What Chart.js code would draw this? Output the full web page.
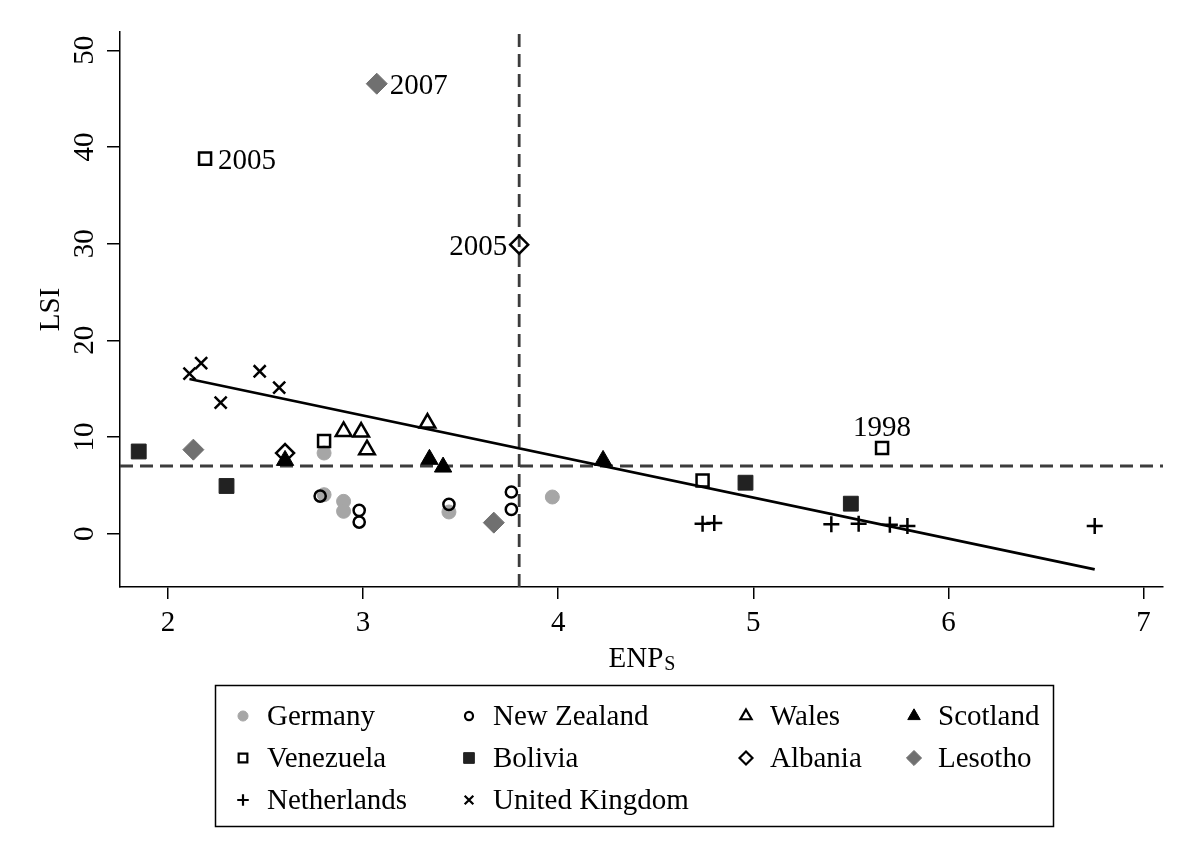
<!DOCTYPE html>
<html><head><meta charset="utf-8">
<script src="https://cdn.jsdelivr.net/npm/chart.js@4.4.1/dist/chart.umd.min.js"></script>
<style>html,body{margin:0;padding:0;background:#fff;}#wrap{width:1193px;height:864px;}</style>
</head><body><div id="wrap"><canvas id="c" width="1193" height="864"></canvas></div>
<script>
// ---- data ----
const xTicks=[2,3,4,5,6,7];
const yTicks=[0,10,20,30,40,50];
const germanyX=[2.80,2.80,2.90,2.90,3.44,3.97];
const germanyY=[8.34,4.03,3.34,2.31,2.24,3.79];
const nzX=[2.78,2.98,2.98,3.44,3.76,3.76];
const nzY=[3.89,2.41,1.20,3.03,4.31,2.51];
const walesX=[2.90,2.99,3.02,3.33];
const walesY=[10.58,10.51,8.69,11.44];
const scotlandX=[2.60,3.34,3.41,4.23];
const scotlandY=[7.58,7.69,6.89,7.58];
const venezuelaX=[2.19,2.80,4.74,5.66];
const venezuelaY=[38.8,9.58,5.51,8.86];
const boliviaX=[1.85,2.30,4.96,5.50];
const boliviaY=[8.50,4.93,5.27,3.10];
const albaniaX=[2.60,3.80];
const albaniaY=[8.34,29.9];
const lesothoX=[2.13,3.07,3.67];
const lesothoY=[8.69,46.55,1.14];
const netherlandsX=[4.74,4.80,5.40,5.54,5.70,5.79,6.75];
const netherlandsY=[1.03,1.10,0.96,1.03,0.93,0.79,0.79];
const ukX=[2.11,2.17,2.27,2.47,2.57];
const ukY=[16.55,17.65,13.55,16.80,15.10];
const fitX=[2.11,6.75];
const fitY=[16.0,-3.7];
const refX=3.8;
const refY=7;
const labelText=['2005','2007','2005','1998'];
const labelX=[2.19,3.07,3.80,5.66];
const labelY=[38.8,46.55,29.9,8.86];
const labelPos=['right','right','left','above'];
const xMin=1.754,xMax=7.1,yMin=-5.52,yMax=51.9;

const pts=(xs,ys)=>xs.map((v,i)=>({x:v,y:ys[i]}));
const FONT='"Liberation Serif", "Times New Roman", serif';
const CLEAR='rgba(0,0,0,0)';

const series=[
 {label:'Germany',x:germanyX,y:germanyY,style:'circle',r:7,fill:'#a6a6a6',stroke:'#a6a6a6',lw:1},
 {label:'New Zealand',x:nzX,y:nzY,style:'circle',r:5.6,fill:CLEAR,stroke:'#000',lw:2.5},
 {label:'Wales',x:walesX,y:walesY,style:'triangle',r:9,fill:CLEAR,stroke:'#000',lw:2.5},
 {label:'Scotland',x:scotlandX,y:scotlandY,style:'triangle',r:10,fill:'#000',stroke:'#000',lw:1},
 {label:'Venezuela',x:venezuelaX,y:venezuelaY,style:'rect',r:8.5,fill:CLEAR,stroke:'#000',lw:2.5},
 {label:'Bolivia',x:boliviaX,y:boliviaY,style:'rect',r:10.5,fill:'#222',stroke:'#222',lw:1},
 {label:'Albania',x:albaniaX,y:albaniaY,style:'rectRot',r:9,fill:CLEAR,stroke:'#000',lw:2.5},
 {label:'Lesotho',x:lesothoX,y:lesothoY,style:'rectRot',r:10.5,fill:'#707070',stroke:'#707070',lw:1},
 {label:'Netherlands',x:netherlandsX,y:netherlandsY,style:'cross',r:8,fill:CLEAR,stroke:'#000',lw:2.5},
 {label:'United Kingdom',x:ukX,y:ukY,style:'crossRot',r:8.5,fill:CLEAR,stroke:'#000',lw:2.5}
];

const datasets=series.map((s,i)=>({
 type:'scatter',label:s.label,data:pts(s.x,s.y),pointStyle:s.style,pointRadius:s.r,
 pointBackgroundColor:s.fill,pointBorderColor:s.stroke,pointBorderWidth:s.lw,
 backgroundColor:s.fill,borderColor:s.stroke,showLine:false,order:20-i
}));
datasets.push({type:'line',label:'fit',data:pts(fitX,fitY),borderColor:'#000',borderWidth:2.7,pointRadius:0,fill:false,showLine:true,order:50});
datasets.push({type:'line',label:'vref',data:[{x:refX,y:yMin},{x:refX,y:yMax}],borderColor:'#3c3c3c',borderWidth:2.8,borderDash:[13,7],pointRadius:0,fill:false,showLine:true,order:60});
datasets.push({type:'line',label:'href',data:[{x:xMin,y:refY},{x:xMax,y:refY}],borderColor:'#3c3c3c',borderWidth:2.8,borderDash:[13,7],pointRadius:0,fill:false,showLine:true,order:60});

function marker(ctx,style,x,y,r,fill,stroke,lw){
 ctx.save();ctx.beginPath();ctx.lineWidth=lw;ctx.fillStyle=fill;ctx.strokeStyle=stroke;
 if(style==='circle'){ctx.arc(x,y,r,0,Math.PI*2);}
 else if(style==='triangle'){ctx.moveTo(x,y-r);ctx.lineTo(x+r*0.866,y+r*0.5);ctx.lineTo(x-r*0.866,y+r*0.5);ctx.closePath();}
 else if(style==='rect'){const s=r*Math.SQRT1_2;ctx.rect(x-s,y-s,2*s,2*s);}
 else if(style==='rectRot'){ctx.moveTo(x-r,y);ctx.lineTo(x,y-r);ctx.lineTo(x+r,y);ctx.lineTo(x,y+r);ctx.closePath();}
 else if(style==='cross'){ctx.moveTo(x-r,y);ctx.lineTo(x+r,y);ctx.moveTo(x,y-r);ctx.lineTo(x,y+r);}
 else if(style==='crossRot'){const s=r*Math.SQRT1_2;ctx.moveTo(x-s,y-s);ctx.lineTo(x+s,y+s);ctx.moveTo(x+s,y-s);ctx.lineTo(x-s,y+s);}
 if(style!=='cross'&&style!=='crossRot'&&fill!==CLEAR)ctx.fill();
 ctx.stroke();ctx.restore();
}

const overlay={id:'overlay',afterDraw(chart){
 const ctx=chart.ctx, xs=chart.scales.x, ys=chart.scales.y;
 ctx.save();
 ctx.fillStyle='#000';ctx.font='29px '+FONT;ctx.textBaseline='alphabetic';
 labelText.forEach((t,i)=>{
  const px=xs.getPixelForValue(labelX[i]), py=ys.getPixelForValue(labelY[i]);
  let tx=px,ty=py+10;
  if(labelPos[i]==='right'){ctx.textAlign='left';tx=px+13;}
  else if(labelPos[i]==='left'){ctx.textAlign='right';tx=px-12;}
  else {ctx.textAlign='center';ty=py-12;}
  ctx.fillText(t,tx,ty);
 });
 // x-axis title ENPs
 const cx=(chart.chartArea.left+chart.chartArea.right)/2;
 ctx.font='29px '+FONT;const w1=ctx.measureText('ENP').width;
 ctx.font='20px '+FONT;const w2=ctx.measureText('S').width;
 const sx=cx-(w1+w2)/2;
 ctx.textAlign='left';ctx.font='29px '+FONT;ctx.fillText('ENP',sx,667);
 ctx.font='20px '+FONT;ctx.fillText('S',sx+w1+1,670);
 // legend
 const bx=215,by=685,bw=838,bh=141;
 ctx.lineWidth=1.5;ctx.strokeStyle='#000';ctx.strokeRect(bx+0.5,by+0.5,bw,bh);
 const colText=[267,493,770,938];const rowY=[715,757,799];
 ctx.font='29px '+FONT;ctx.textBaseline='middle';ctx.textAlign='left';
 series.forEach((s,i)=>{
  const c=i%4,rw=Math.floor(i/4);
  const mx=colText[c]-24,my=rowY[rw];
  marker(ctx,s.style,mx,my+1,s.r*0.72,s.fill,s.stroke,Math.min(s.lw,2.2));
  ctx.fillStyle='#000';ctx.fillText(s.label,colText[c],my+2);
 });
 ctx.restore();
}};

const gridCfg=(tl)=>({display:true,drawOnChartArea:false,drawTicks:true,tickLength:tl,tickColor:'#000',tickWidth:1.5,lineWidth:1.5,color:'#000'});
new Chart(document.getElementById('c'),{
 type:'scatter',
 data:{datasets},
 options:{
  responsive:false,animation:false,devicePixelRatio:1,
  layout:{padding:{top:32,right:30,left:0,bottom:0}},
  plugins:{legend:{display:false},tooltip:{enabled:false}},
  scales:{
   x:{type:'linear',min:xMin,max:xMax,
    afterBuildTicks:s=>{s.ticks=xTicks.map(v=>({value:v}));},
    afterFit:s=>{s.height=277;},
    grid:gridCfg(12),border:{display:true,color:'#000',width:1.5},
    ticks:{color:'#000',font:{family:FONT,size:29},padding:7,maxRotation:0,minRotation:0,autoSkip:false},
    title:{display:false}},
   y:{type:'linear',min:yMin,max:yMax,
    afterBuildTicks:s=>{s.ticks=yTicks.map(v=>({value:v}));},
    afterFit:s=>{s.width=120;},
    grid:gridCfg(13),border:{display:true,color:'#000',width:1.5},
    ticks:{color:'#000',font:{family:FONT,size:29},padding:7.5,minRotation:90,maxRotation:90,crossAlign:'center',autoSkip:false},
    title:{display:true,text:'LSI',color:'#000',font:{family:FONT,size:29},padding:{top:34,bottom:0}}}
  }
 },
 plugins:[overlay]
});
</script></body></html>
